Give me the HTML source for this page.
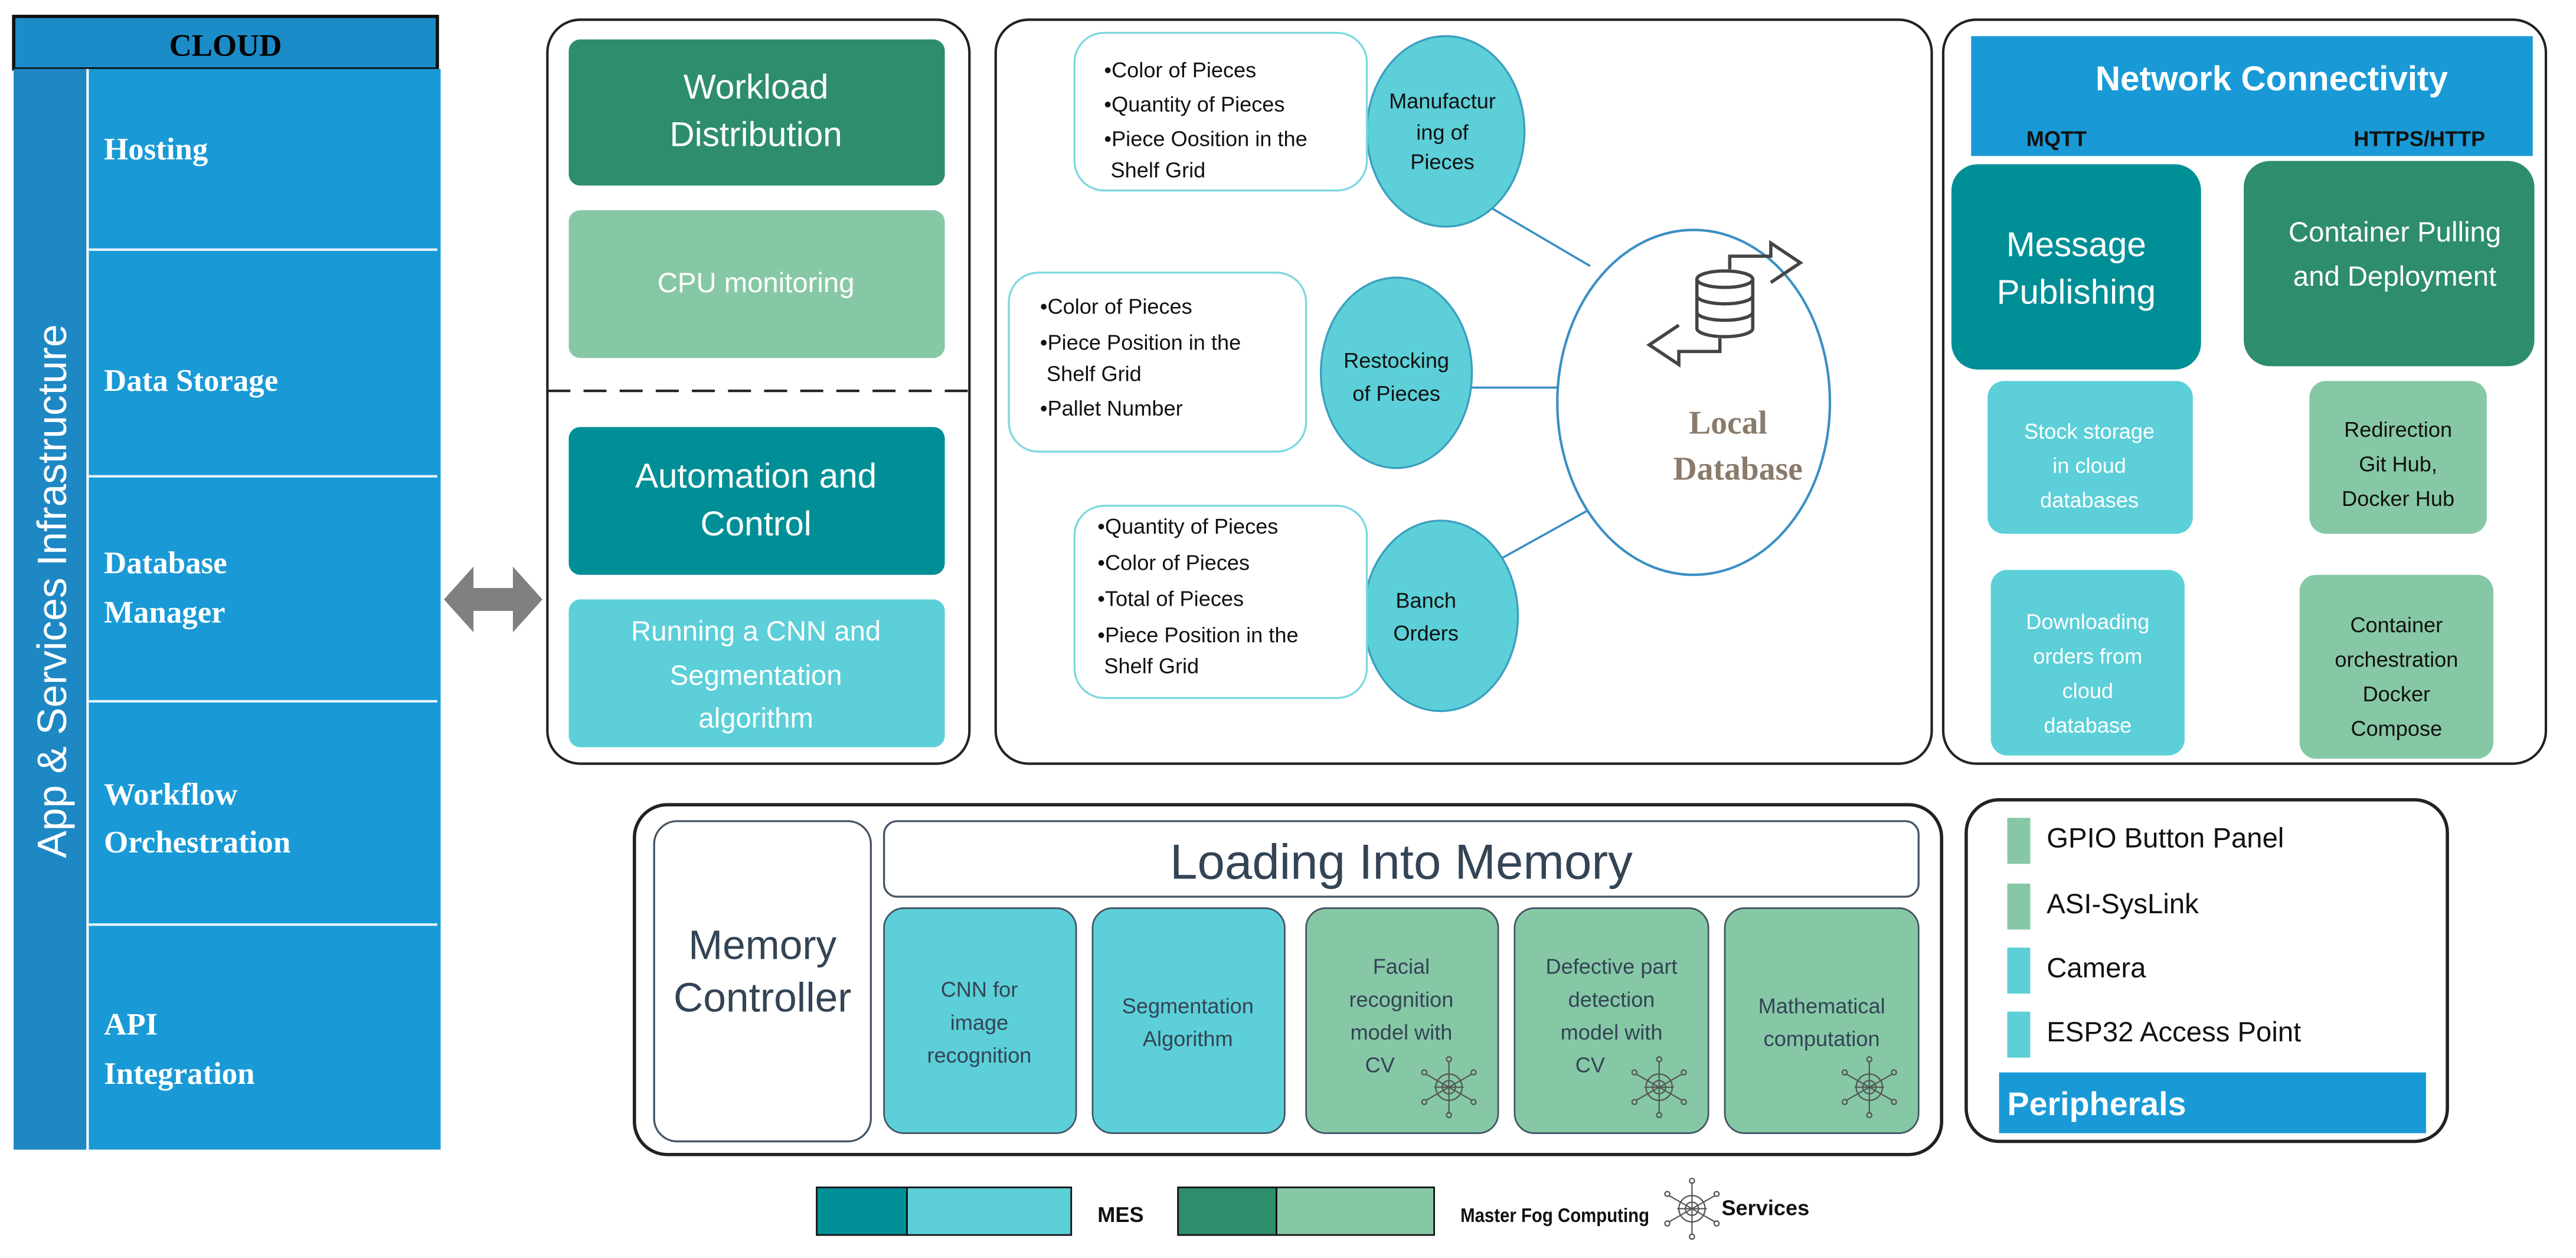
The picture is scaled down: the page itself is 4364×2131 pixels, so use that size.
<!DOCTYPE html>
<html><head><meta charset="utf-8"><style>
html,body{margin:0;padding:0;background:#fff;}
svg{display:block;}
text{font-family:"Liberation Sans",sans-serif;}
text.serif,.serif text{font-family:"Liberation Serif",serif;font-weight:bold;}
</style></head><body>
<svg width="4364" height="2131" viewBox="0 0 1568 766" xmlns="http://www.w3.org/2000/svg">
<defs>
<g id="svc" stroke="#555" stroke-width="0.8" fill="none">
<line x1="0" y1="-16" x2="0" y2="16"/><line x1="-14" y1="-8" x2="14" y2="8"/><line x1="-14" y1="8" x2="14" y2="-8"/>
<line x1="-9" y1="0" x2="9" y2="0"/>
<circle cx="0" cy="0" r="4"/><circle cx="0" cy="0" r="8"/>
<circle cx="0" cy="-17" r="1.5"/><circle cx="0" cy="17" r="1.5"/><circle cx="-15" cy="-9" r="1.5"/><circle cx="15" cy="9" r="1.5"/><circle cx="-15" cy="9" r="1.5"/><circle cx="15" cy="-9" r="1.5"/>
</g>
</defs>
<rect x="8" y="10" width="258" height="32" fill="#1c8cc9" stroke="#111" stroke-width="2"/>
<text x="137" y="34" text-anchor="middle" class="serif" font-size="19" fill="#000">CLOUD</text>
<rect x="8" y="42" width="260" height="658" fill="#199ad6"/>
<rect x="8" y="42" width="45" height="658" fill="#1e88c4"/>
<line x1="53" y1="42" x2="53" y2="700" stroke="#fff" stroke-width="1.5"/>
<g stroke="#e8f4fb" stroke-width="1.5"><line x1="53" y1="152" x2="266" y2="152"/><line x1="53" y1="290" x2="266" y2="290"/><line x1="53" y1="427" x2="266" y2="427"/><line x1="53" y1="563" x2="266" y2="563"/></g>
<text transform="translate(40,360) rotate(-90)" text-anchor="middle" font-size="25" fill="#fff">App &amp; Services Infrastructure</text>
<g class="serif" font-size="19" fill="#fff">
<text x="63" y="97">Hosting</text>
<text x="63" y="238">Data Storage</text>
<text x="63" y="349">Database</text><text x="63" y="379">Manager</text>
<text x="63" y="490">Workflow</text><text x="63" y="519">Orchestration</text>
<text x="63" y="630">API</text><text x="63" y="660">Integration</text>
</g>
<polygon points="270,365 288,345 288,358 312,358 312,345 330,365 312,385 312,372 288,372 288,385" fill="#808080"/>
<rect x="333" y="12" width="257" height="453" rx="20" fill="none" stroke="#222" stroke-width="1.5"/>
<rect x="346" y="24" width="229" height="89" rx="7" fill="#2e8d6a"/>
<text x="460" y="60" text-anchor="middle" font-size="21" fill="#fff">Workload</text>
<text x="460" y="89" text-anchor="middle" font-size="21" fill="#fff">Distribution</text>
<rect x="346" y="128" width="229" height="90" rx="7" fill="#86c8a6"/>
<text x="460" y="178" text-anchor="middle" font-size="17" fill="#fff">CPU monitoring</text>
<line x1="333" y1="238" x2="590" y2="238" stroke="#222" stroke-width="1.5" stroke-dasharray="14,8"/>
<rect x="346" y="260" width="229" height="90" rx="7" fill="#008f96"/>
<text x="460" y="297" text-anchor="middle" font-size="21" fill="#fff">Automation and</text>
<text x="460" y="326" text-anchor="middle" font-size="21" fill="#fff">Control</text>
<rect x="346" y="365" width="229" height="90" rx="7" fill="#5ccfd8"/>
<text x="460" y="390" text-anchor="middle" font-size="17" fill="#fff">Running a CNN and</text>
<text x="460" y="417" text-anchor="middle" font-size="17" fill="#fff">Segmentation</text>
<text x="460" y="443" text-anchor="middle" font-size="17" fill="#fff">algorithm</text>
<rect x="606" y="12" width="570" height="453" rx="20" fill="none" stroke="#222" stroke-width="1.5"/>
<g stroke="#3a8fc4" stroke-width="1.3"><line x1="905" y1="125" x2="968" y2="162"/><line x1="893" y1="236" x2="948" y2="236"/><line x1="905" y1="345" x2="968" y2="310"/></g>
<ellipse cx="1031" cy="245" rx="83" ry="105" fill="#fff" stroke="#3a8fc4" stroke-width="1.5"/>
<g fill="none" stroke="#444" stroke-width="2">
<ellipse cx="1050" cy="170" rx="17" ry="5"/><path d="M1033 170 v30 a17 5 0 0 0 34 0 v-30"/><path d="M1033 180 a17 5 0 0 0 34 0"/><path d="M1033 190 a17 5 0 0 0 34 0"/>
<path d="M1053 164 v-8 h25 v-8 l18 12 l-18 12"/>
<path d="M1047 206 v8 h-25 v8 l-18 -12 l18 -12"/>
</g>
<text x="1052" y="264" text-anchor="middle" class="serif" font-size="20" fill="#8a7a6a">Local</text>
<text x="1058" y="292" text-anchor="middle" class="serif" font-size="20" fill="#8a7a6a">Database</text>
<g fill="#5ccfd8" stroke="#3a9fc0" stroke-width="1.2">
<ellipse cx="880" cy="80" rx="48" ry="58"/>
<ellipse cx="850" cy="227" rx="46" ry="58"/>
<ellipse cx="877" cy="375" rx="47" ry="58"/>
</g>
<g text-anchor="middle" font-size="13" fill="#111">
<text x="878" y="66">Manufactur</text><text x="878" y="85">ing of</text><text x="878" y="103">Pieces</text>
<text x="850" y="224">Restocking</text><text x="850" y="244">of Pieces</text>
<text x="868" y="370">Banch</text><text x="868" y="390">Orders</text>
</g>
<g fill="#fff" stroke="#7cd8e0" stroke-width="1.2">
<rect x="654" y="20" width="178" height="96" rx="18"/>
<rect x="614" y="166" width="181" height="109" rx="18"/>
<rect x="654" y="308" width="178" height="117" rx="18"/>
</g>
<g font-size="13" fill="#111">
<text x="672" y="47">•Color of Pieces</text><text x="672" y="68">•Quantity of Pieces</text><text x="672" y="89">•Piece Oosition in the</text><text x="676" y="108">Shelf Grid</text>
<text x="633" y="191">•Color of Pieces</text><text x="633" y="213">•Piece Position in the</text><text x="637" y="232">Shelf Grid</text><text x="633" y="253">•Pallet Number</text>
<text x="668" y="325">•Quantity of Pieces</text><text x="668" y="347">•Color of Pieces</text><text x="668" y="369">•Total of Pieces</text><text x="668" y="391">•Piece Position in the</text><text x="672" y="410">Shelf Grid</text>
</g>
<rect x="1183" y="12" width="367" height="453" rx="20" fill="none" stroke="#222" stroke-width="1.5"/>
<rect x="1200" y="22" width="342" height="73" fill="#199ad6"/>
<text x="1383" y="55" text-anchor="middle" font-size="21" font-weight="bold" fill="#fff">Network Connectivity</text>
<text x="1252" y="89" text-anchor="middle" font-size="13" font-weight="bold" fill="#111">MQTT</text>
<text x="1473" y="89" text-anchor="middle" font-size="13" font-weight="bold" fill="#111">HTTPS/HTTP</text>
<rect x="1188" y="100" width="152" height="125" rx="16" fill="#008f96"/>
<text x="1264" y="156" text-anchor="middle" font-size="21" fill="#fff">Message</text>
<text x="1264" y="185" text-anchor="middle" font-size="21" fill="#fff">Publishing</text>
<rect x="1366" y="98" width="177" height="125" rx="16" fill="#2e8d6a"/>
<text x="1458" y="147" text-anchor="middle" font-size="17" fill="#fff">Container Pulling</text>
<text x="1458" y="174" text-anchor="middle" font-size="17" fill="#fff">and Deployment</text>
<rect x="1210" y="232" width="125" height="93" rx="10" fill="#5ccfd8"/>
<g text-anchor="middle" font-size="13" fill="#fff"><text x="1272" y="267">Stock storage</text><text x="1272" y="288">in cloud</text><text x="1272" y="309">databases</text></g>
<rect x="1212" y="347" width="118" height="113" rx="10" fill="#5ccfd8"/>
<g text-anchor="middle" font-size="13" fill="#fff"><text x="1271" y="383">Downloading</text><text x="1271" y="404">orders from</text><text x="1271" y="425">cloud</text><text x="1271" y="446">database</text></g>
<rect x="1406" y="232" width="108" height="93" rx="10" fill="#86c8a6"/>
<g text-anchor="middle" font-size="13" fill="#111"><text x="1460" y="266">Redirection</text><text x="1460" y="287">Git Hub,</text><text x="1460" y="308">Docker Hub</text></g>
<rect x="1400" y="350" width="118" height="112" rx="10" fill="#86c8a6"/>
<g text-anchor="middle" font-size="13" fill="#111"><text x="1459" y="385">Container</text><text x="1459" y="406">orchestration</text><text x="1459" y="427">Docker</text><text x="1459" y="448">Compose</text></g>
<rect x="386" y="490" width="796" height="213" rx="20" fill="none" stroke="#222" stroke-width="2"/>
<rect x="398" y="500" width="132" height="195" rx="14" fill="#fff" stroke="#445566" stroke-width="1.2"/>
<text x="464" y="584" text-anchor="middle" font-size="25" fill="#334455">Memory</text>
<text x="464" y="616" text-anchor="middle" font-size="25" fill="#334455">Controller</text>
<rect x="538" y="500" width="630" height="46" rx="8" fill="#fff" stroke="#445566" stroke-width="1.2"/>
<text x="853" y="535" text-anchor="middle" font-size="30" fill="#334455">Loading Into Memory</text>
<g stroke="#445566" stroke-width="1">
<rect x="538" y="553" width="117" height="137" rx="12" fill="#5ccfd8"/>
<rect x="665" y="553" width="117" height="137" rx="12" fill="#5ccfd8"/>
<rect x="795" y="553" width="117" height="137" rx="12" fill="#86c8a6"/>
<rect x="922" y="553" width="118" height="137" rx="12" fill="#86c8a6"/>
<rect x="1050" y="553" width="118" height="137" rx="12" fill="#86c8a6"/>
</g>
<g text-anchor="middle" font-size="13" fill="#334455">
<text x="596" y="607">CNN for</text><text x="596" y="627">image</text><text x="596" y="647">recognition</text>
<text x="723" y="617">Segmentation</text><text x="723" y="637">Algorithm</text>
<text x="853" y="593">Facial</text><text x="853" y="613">recognition</text><text x="853" y="633">model with</text><text x="840" y="653">CV</text>
<text x="981" y="593">Defective part</text><text x="981" y="613">detection</text><text x="981" y="633">model with</text><text x="968" y="653">CV</text>
<text x="1109" y="617">Mathematical</text><text x="1109" y="637">computation</text>
</g>
<use href="#svc" x="882" y="662"/><use href="#svc" x="1010" y="662"/><use href="#svc" x="1138" y="662"/>
<rect x="1197" y="487" width="293" height="208" rx="20" fill="none" stroke="#222" stroke-width="2"/>
<rect x="1222" y="498" width="14" height="28" fill="#86c8a6"/>
<rect x="1222" y="538" width="14" height="28" fill="#86c8a6"/>
<rect x="1222" y="577" width="14" height="28" fill="#5ccfd8"/>
<rect x="1222" y="616" width="14" height="28" fill="#5ccfd8"/>
<g font-size="17" fill="#111">
<text x="1246" y="516">GPIO Button Panel</text><text x="1246" y="556">ASI-SysLink</text><text x="1246" y="595">Camera</text><text x="1246" y="634">ESP32 Access Point</text>
</g>
<rect x="1217" y="653" width="260" height="37" fill="#199ad6"/>
<text x="1222" y="679" font-size="20" font-weight="bold" fill="#fff">Peripherals</text>
<rect x="497" y="723" width="55" height="29" fill="#008f96" stroke="#111" stroke-width="1"/>
<rect x="552" y="723" width="100" height="29" fill="#5ccfd8" stroke="#111" stroke-width="1"/>
<text x="668" y="744" font-size="13" font-weight="bold" fill="#111">MES</text>
<rect x="717" y="723" width="60" height="29" fill="#2e8d6a" stroke="#111" stroke-width="1"/>
<rect x="777" y="723" width="96" height="29" fill="#86c8a6" stroke="#111" stroke-width="1"/>
<text x="889" y="744" font-size="12" font-weight="bold" fill="#111" textLength="115" lengthAdjust="spacingAndGlyphs">Master Fog Computing</text>
<use href="#svc" x="1030" y="736"/>
<text x="1048" y="740" font-size="13" font-weight="bold" fill="#111">Services</text>
</svg>
</body></html>
